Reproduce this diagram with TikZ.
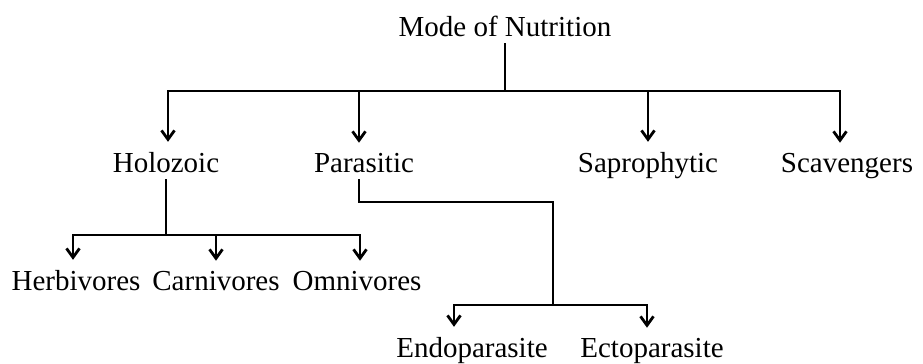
\documentclass[tikz,border=0pt]{standalone}
\usepackage{fontspec}
\setmainfont{Liberation Serif}
\usetikzlibrary{arrows.meta}

\begin{document}
\begin{tikzpicture}[x=0.5pt, y=-0.5pt,
    every node/.style={font=\fontsize{14.5}{17}\selectfont, anchor=base},
    link/.style={line width=1.4pt},
    arr/.style={link, -{Straight Barb[length=4.5pt, width=6.5pt, line width=1.4pt]}, shorten >=1.5pt}]
  \useasboundingbox (0,0) rectangle (923,364);

  % labels
  \node (root) at (505,36) {Mode of Nutrition};
  \node (hol) at (166,172) {Holozoic};
  \node (par) at (364,172) {Parasitic};
  \node (sap) at (648,172) {Saprophytic};
  \node (sca) at (847,172) {Scavengers};
  \node (her) at (76,290) {Herbivores};
  \node (car) at (216,290) {Carnivores};
  \node (omn) at (357,290) {Omnivores};
  \node (endo) at (472,357) {Endoparasite};
  \node (ecto) at (652,357) {Ectoparasite};

  % junctions
  \coordinate (top) at (505,91);
  \coordinate (hj) at (166,235);
  \coordinate (pbend) at (553,202);
  \coordinate (pj) at (553,305);

  % first level
  \draw[link] (root.south) -- (top);
  \draw[arr] (top) -| ([xshift=1pt]hol.north);
  \draw[arr] (top) -| ([xshift=-2.5pt]par.north);
  \draw[arr] (top) -| (sap.north);
  \draw[arr] (top) -| ([xshift=-3.5pt]sca.north);

  % holozoic
  \draw[link] (hol.south) -- (hj);
  \draw[arr] (hj) -| ([xshift=-1.5pt]her.north);
  \draw[arr] (hj) -| (car.north);
  \draw[arr] (hj) -| ([xshift=1.5pt]omn.north);

  % parasitic
  \draw[link] ([xshift=-2.5pt]par.south) |- (pbend) -- (pj);
  \draw[arr] (pj) -| ([xshift=-9pt]endo.north);
  \draw[arr] (pj) -| ([xshift=-2.5pt]ecto.north);
\end{tikzpicture}
\end{document}
